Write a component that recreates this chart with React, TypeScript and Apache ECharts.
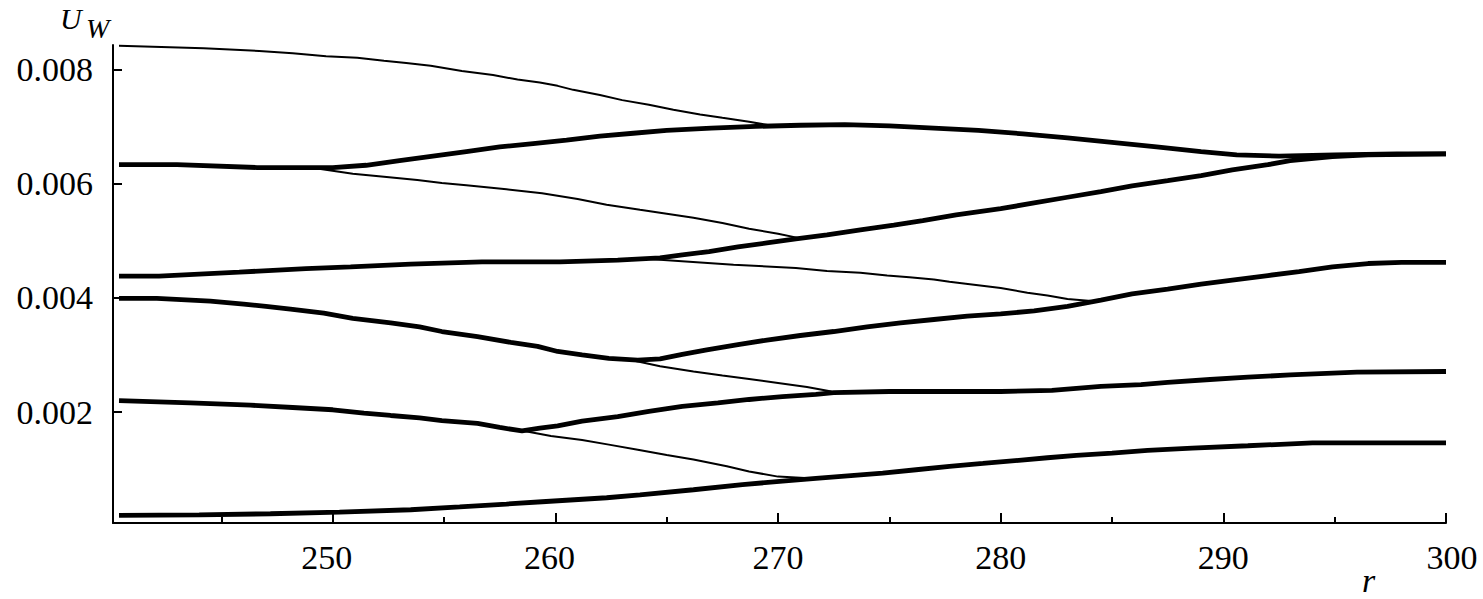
import React, { useEffect, useRef } from "react";
import * as echarts from "echarts";

// Thick curves [r, U_W]
const thick1: number[][] = [[240.4,0.00019],[244,0.0002],[247.2,0.00022],[250.3,0.00025],[253.5,0.00029],[255.7,0.00034],[257.8,0.00039],[259.4,0.00043],[262.3,0.0005],[263.8,0.00055],[266.2,0.00064],[268.4,0.00073],[270.2,0.00079],[271.7,0.00084],[273.7,0.0009],[274.7,0.00093],[276.2,0.00099],[277.7,0.00105],[279.2,0.0011],[282.1,0.0012],[283.4,0.00124],[285,0.00128],[286.6,0.00133],[288.6,0.00137],[291.1,0.00141],[294,0.00146],[297,0.00146],[300,0.00146]];
const thick2: number[][] = [[240.4,0.0022],[243.6,0.00216],[246.3,0.00212],[248.2,0.00208],[250,0.00204],[251.4,0.00198],[252.6,0.00194],[253.9,0.0019],[254.9,0.00185],[256.5,0.0018],[257.5,0.00173],[258.5,0.00167],[259.3,0.00172],[260.1,0.00176],[261.2,0.00184],[262.8,0.00192],[264.2,0.00201],[265.7,0.0021],[267.3,0.00216],[268.7,0.00222],[270.2,0.00227],[271.7,0.00231],[272.5,0.00234],[275,0.00236],[280,0.00236],[282.3,0.00238],[284.5,0.00245],[286.3,0.00248],[287.5,0.00252],[289.4,0.00257],[291.1,0.00261],[293,0.00265],[296,0.0027],[300,0.00271]];
const thick3: number[][] = [[240.4,0.00399],[242.1,0.00399],[244.5,0.00394],[246,0.00389],[247,0.00385],[248.1,0.0038],[249.6,0.00373],[250.9,0.00364],[252.6,0.00356],[253.9,0.00349],[254.9,0.00341],[256.5,0.00332],[258,0.00322],[259.2,0.00315],[260.1,0.00306],[261.2,0.003],[262.4,0.00294],[263.7,0.00291],[264.7,0.00293],[265.7,0.00301],[266.8,0.00309],[268.2,0.00318],[269.5,0.00326],[271,0.00334],[272.5,0.00341],[274,0.00349],[275.5,0.00356],[277,0.00362],[278.5,0.00368],[280,0.00372],[281.5,0.00377],[283,0.00385],[284.5,0.00396],[285.9,0.00407],[287.5,0.00415],[289,0.00424],[290.4,0.00431],[292,0.00439],[293.4,0.00446],[294.9,0.00454],[296.5,0.0046],[298,0.00462],[300,0.00462]];
const thick4: number[][] = [[240.4,0.00438],[242.2,0.00438],[245.8,0.00445],[248.8,0.00451],[250.8,0.00454],[253.5,0.00459],[256.7,0.00463],[260.2,0.00463],[262.8,0.00466],[264.7,0.0047],[265.7,0.00475],[266.9,0.00481],[268.2,0.00489],[269.5,0.00496],[270.8,0.00503],[272.2,0.0051],[273.7,0.00519],[275.2,0.00527],[276.5,0.00535],[278,0.00545],[280,0.00556],[281.5,0.00566],[283,0.00576],[284.5,0.00586],[285.9,0.00596],[287.5,0.00605],[289,0.00614],[290.4,0.00624],[292,0.00633],[293,0.0064],[294.9,0.00647],[296.5,0.0065],[300,0.00652]];
const thick5: number[][] = [[240.4,0.00633],[243,0.00633],[246.6,0.00628],[250,0.00628],[251.5,0.00632],[253,0.0064],[254.5,0.00648],[256,0.00656],[257.5,0.00664],[259,0.0067],[260.5,0.00676],[262,0.00683],[263.5,0.00688],[265,0.00693],[267,0.00697],[269,0.007],[271,0.00702],[273,0.00703],[275,0.00701],[277,0.00697],[279,0.00693],[281,0.00687],[283,0.0068],[285,0.00672],[287,0.00664],[289,0.00656],[290.6,0.0065],[292.5,0.00648],[295,0.0065],[297.8,0.00652],[300,0.00652]];

// Thin curves [r, U_W]
const thin1: number[][] = [[240.4,0.00841],[244.2,0.00837],[246.7,0.00832],[248.2,0.00828],[249.7,0.00823],[251.1,0.0082],[252.3,0.00815],[253.3,0.00811],[254.4,0.00806],[255.8,0.00797],[257.2,0.0079],[258.3,0.00782],[259.3,0.00777],[260.1,0.00771],[260.8,0.00764],[262,0.00755],[263,0.00746],[264.2,0.00738],[265.3,0.00729],[266.5,0.00721],[267.5,0.00715],[268.7,0.00708],[269.6,0.00702]];
const thin2: number[][] = [[249,0.00628],[250.9,0.00617],[252.3,0.00612],[253.8,0.00606],[254.9,0.00601],[256,0.00597],[257.8,0.0059],[259.4,0.00583],[261,0.00573],[262.3,0.00563],[263.8,0.00554],[265,0.00547],[266.2,0.0054],[267.5,0.00531],[268.7,0.00521],[270,0.00512],[271,0.00504]];
const thin3: number[][] = [[264.2,0.00468],[268,0.00458],[270.8,0.00452],[272.2,0.00447],[273.7,0.00444],[274.9,0.00439],[275.9,0.00436],[277,0.00432],[277.7,0.00428],[278.8,0.00423],[280,0.00417],[281.2,0.00409],[282.1,0.00404],[283,0.00398],[284.2,0.00394]];
const thin4: number[][] = [[263.4,0.00291],[264.7,0.0028],[266.2,0.00271],[267.5,0.00264],[268.7,0.00258],[270,0.00251],[271.3,0.00244],[272.4,0.00236]];
const thin5: number[][] = [[258.6,0.00167],[259.8,0.00158],[261.2,0.00151],[262.4,0.00143],[263.7,0.00134],[265,0.00125],[266.2,0.00117],[267.7,0.00105],[268.7,0.00096],[270,0.00087],[271.4,0.00084]];

const xMajorTicks = [250, 260, 270, 280, 290, 300];
const xMinorTicks = [245, 255, 265, 275, 285, 295];
const yTicks = [0.002, 0.004, 0.006, 0.008];

const FONT = "Times New Roman";

export default function App() {
  const ref = useRef<HTMLDivElement>(null);
  useEffect(() => {
    if (!ref.current) return;
    const chart = echarts.init(ref.current, null, { renderer: "svg" });
    const thick = (d: number[][]) => ({
      type: "line", data: d, showSymbol: false, symbol: "none", silent: true,
      lineStyle: { color: "#000", width: 4.8 }, z: 3,
    });
    const thin = (d: number[][]) => ({
      type: "line", data: d, showSymbol: false, symbol: "none", silent: true,
      lineStyle: { color: "#000", width: 2 }, z: 2,
    });
    const shift: Record<number, string> = { 250: "l", 260: "l", 300: "r" };
    const txt = { fontFamily: FONT, fontSize: 34, color: "#000" };
    chart.setOption({
      animation: false,
      grid: { left: 113, right: 37, top: 45, bottom: 76 },
      xAxis: [
        {
          type: "value", min: 240.13, max: 300, position: "bottom",
          axisLine: { show: true, onZero: false, lineStyle: { color: "#000", width: 2 } },
          axisTick: { show: true, inside: true, length: 10, customValues: xMajorTicks, lineStyle: { color: "#000", width: 2 } },
          axisLabel: {
            show: true, customValues: xMajorTicks, margin: 17, ...txt,
            formatter: (v: number) => (shift[v] ? `{${shift[v]}|${v}}` : `{n|${v}}`),
            rich: {
              n: { ...txt },
              l: { ...txt, padding: [0, 12, 0, 0] },
              r: { ...txt, padding: [0, 0, 0, 12] },
            },
          },
          splitLine: { show: false },
        },
        {
          type: "value", min: 240.13, max: 300, position: "bottom", offset: 0,
          axisLine: { show: false, onZero: false },
          axisTick: { show: true, inside: true, length: 6, customValues: xMinorTicks, lineStyle: { color: "#000", width: 2 } },
          axisLabel: { show: false },
          splitLine: { show: false },
        },
      ],
      yAxis: {
        type: "value", min: 0.000058, max: 0.008425,
        axisLine: { show: true, onZero: false, lineStyle: { color: "#000", width: 2 } },
        axisTick: { show: true, inside: true, length: 9, customValues: yTicks, lineStyle: { color: "#000", width: 2 } },
        axisLabel: {
          show: true, customValues: yTicks, margin: 20, ...txt,
          formatter: (v: number) => v.toFixed(3),
        },
        splitLine: { show: false },
      },
      graphic: [
        { type: "text", left: 60, top: 3, style: { text: "U", font: "italic 30px 'Times New Roman'", fill: "#000" } },
        { type: "text", left: 86, top: 14, style: { text: "W", font: "italic 28px 'Times New Roman'", fill: "#000" } },
        { type: "text", left: 1362, top: 563, style: { text: "r", font: "italic 34px 'Times New Roman'", fill: "#000" } },
      ],
      series: [
        thin(thin1), thin(thin2), thin(thin3), thin(thin4), thin(thin5),
        thick(thick1), thick(thick2), thick(thick3), thick(thick4), thick(thick5),
      ],
    });
    return () => chart.dispose();
  }, []);
  return (
    <div
      ref={ref}
      style={{ position: "fixed", left: 0, top: 0, width: 1483, height: 599, background: "#fff" }}
    />
  );
}
